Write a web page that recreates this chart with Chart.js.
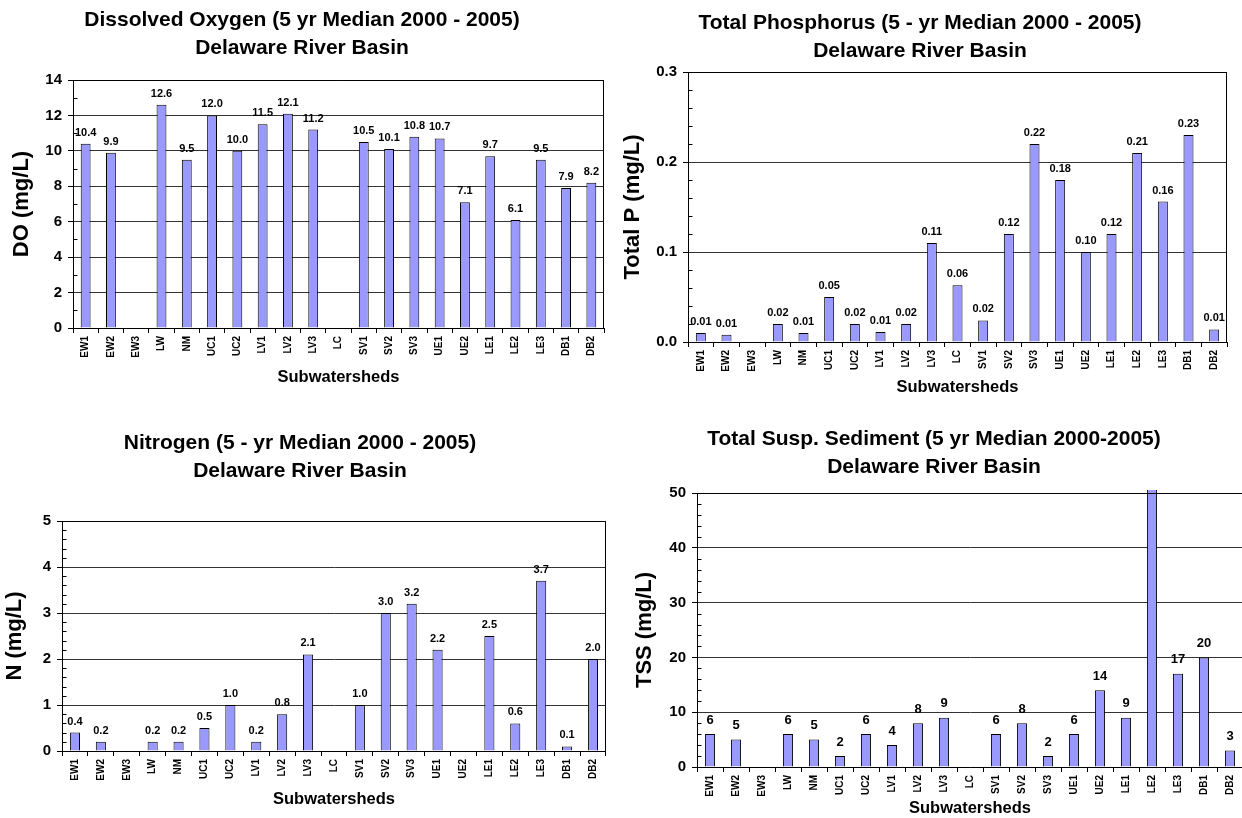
<!DOCTYPE html>
<html>
<head>
<meta charset="utf-8">
<title>Delaware River Basin - 5 yr medians by subwatershed</title>
<script src="https://cdn.jsdelivr.net/npm/chart.js@4.4.1/dist/chart.umd.min.js"></script>
<style>
  html, body { margin: 0; padding: 0; background: #fff; }
  body { width: 1242px; height: 818px; position: relative; overflow: hidden; }
  .panel { position: absolute; height: 409px; }
  #doBox  { left: 0;     top: 0;     width: 614px; }
  #tpBox  { left: 613px; top: 0;     width: 627px; }
  #nBox   { left: -7px;  top: 409px; width: 615px; }
  #tssBox { left: 625px; top: 409px; width: 645px; }
</style>
</head>
<body>
<div class="panel" id="doBox"><canvas id="doChart"></canvas></div>
<div class="panel" id="tpBox"><canvas id="tpChart"></canvas></div>
<div class="panel" id="nBox"><canvas id="nChart"></canvas></div>
<div class="panel" id="tssBox"><canvas id="tssChart"></canvas></div>

<script>
// --- data ---
const subwatersheds = ['EW1', 'EW2', 'EW3', 'LW', 'NM', 'UC1', 'UC2', 'LV1', 'LV2', 'LV3', 'LC',
                       'SV1', 'SV2', 'SV3', 'UE1', 'UE2', 'LE1', 'LE2', 'LE3', 'DB1', 'DB2'];

const doValues  = [10.4, 9.9, null, 12.6, 9.5, 12.0, 10.0, 11.5, 12.1, 11.2, null,
                   10.5, 10.1, 10.8, 10.7, 7.1, 9.7, 6.1, 9.5, 7.9, 8.2];
const tpValues  = [0.010, 0.008, null, 0.020, 0.010, 0.050, 0.020, 0.011, 0.020, 0.110, 0.063,
                   0.024, 0.120, 0.220, 0.180, 0.100, 0.120, 0.210, 0.156, 0.230, 0.014];
const nValues   = [0.4, 0.2, null, 0.2, 0.2, 0.5, 1.0, 0.2, 0.8, 2.1, null,
                   1.0, 3.0, 3.2, 2.2, null, 2.5, 0.6, 3.7, 0.1, 2.0];
// LE2 runs off the top of the TSS chart, its label is not shown; 52 is an estimate
const tssValues = [6, 5, null, 6, 5, 2, 6, 4, 8, 9, null,
                   6, 8, 2, 6, 14, 9, 52, 17, 20, 3];

// labelled (major) y ticks of each chart
const doTicks  = [0, 2, 4, 6, 8, 10, 12, 14];
const tpTicks  = [0, 0.1, 0.2, 0.3];
const nTicks   = [0, 1, 2, 3, 4, 5];
const tssTicks = [0, 10, 20, 30, 40, 50];

const FONT = '"Liberation Sans", Arial, Helvetica, sans-serif';
Chart.defaults.font.family = FONT;
Chart.defaults.color = '#000';

function isMajor(v, majors) {
    return majors.some(m => Math.abs(m - v) < 1e-9);
}

// value labels above each bar
const barValues = {
    id: 'barValues',
    afterDatasetsDraw(chart, args, opts) {
        const ctx = chart.ctx;
        const yScale = chart.scales.y;
        const values = chart.data.datasets[0].data;
        ctx.save();
        ctx.font = 'bold ' + opts.size + 'px ' + FONT;
        ctx.fillStyle = '#000';
        ctx.textAlign = 'center';
        ctx.textBaseline = 'middle';
        chart.getDatasetMeta(0).data.forEach((bar, i) => {
            const v = values[i];
            if (v === null || v > yScale.max) return;
            ctx.fillText(v.toFixed(opts.digits), bar.x, bar.y - opts.offset);
        });
        ctx.restore();
    }
};

// box round the plot area and small inward minor ticks on the value axis
const plotFrame = {
    id: 'plotFrame',
    afterDraw(chart, args, opts) {
        const ctx = chart.ctx;
        const a = chart.chartArea;
        const yScale = chart.scales.y;
        const l = Math.round(a.left) + 0.5, r = Math.round(a.right) - 0.5;
        const t = Math.round(a.top) + 0.5, b = Math.round(a.bottom) + 0.5;
        ctx.save();
        ctx.strokeStyle = '#000';
        ctx.lineWidth = 1;
        ctx.beginPath();
        ctx.moveTo(l, t); ctx.lineTo(r, t); ctx.lineTo(r, b);
        yScale.ticks.forEach(tk => {
            if (isMajor(tk.value, opts.majors)) return;
            const y = Math.round(yScale.getPixelForValue(tk.value)) + 0.5;
            ctx.moveTo(l, y); ctx.lineTo(l + 4, y);
        });
        ctx.stroke();
        ctx.restore();
    }
};

function makeChart(id, c) {
    const majors = c.majors;
    return new Chart(document.getElementById(id), {
        type: 'bar',
        data: {
            labels: subwatersheds,
            datasets: [{
                data: c.values,
                backgroundColor: '#9999ff',
                borderColor: '#000',
                borderWidth: 1,
                barPercentage: 0.39,
                categoryPercentage: 1.0,
                clip: c.clip || 0
            }]
        },
        options: {
            responsive: true,
            maintainAspectRatio: false,
            animation: false,
            events: [],
            layout: { padding: { left: 0, right: c.padRight, top: 0, bottom: 0 } },
            plugins: {
                legend: { display: false },
                tooltip: { enabled: false },
                title: {
                    display: true,
                    text: c.title,
                    color: '#000',
                    font: { size: 21, weight: 'bold', lineHeight: 1.362 },
                    padding: c.titlePad
                },
                barValues: { digits: c.digits, size: c.labelSize, offset: c.labelOffset },
                plotFrame: { majors: majors }
            },
            scales: {
                x: {
                    afterFit(s) { s.height = c.xHeight; },
                    grid: { display: true, drawOnChartArea: false, drawTicks: true, tickLength: 5, color: '#000', offset: true },
                    border: { display: true, color: '#000' },
                    ticks: {
                        autoSkip: false, minRotation: 90, maxRotation: 90, padding: 3,
                        font: { size: 10, weight: 'bold' }
                    },
                    title: {
                        display: true, text: 'Subwatersheds',
                        font: { size: 16.5, weight: 'bold' },
                        padding: { top: 0, bottom: c.xTitlePad }
                    }
                },
                y: {
                    min: majors[0],
                    max: majors[majors.length - 1],
                    afterFit(s) { s.width = c.yWidth; },
                    grid: {
                        color: ctx => isMajor(ctx.tick.value, majors) ? '#333' : 'transparent',
                        tickColor: ctx => isMajor(ctx.tick.value, majors) ? '#000' : 'transparent',
                        tickLength: 5
                    },
                    border: { display: true, color: '#000' },
                    ticks: {
                        stepSize: c.minorStep,
                        autoSkip: false,
                        padding: 6,
                        font: { size: 15, weight: 'bold' },
                        callback: v => isMajor(v, majors) ? Number(v).toFixed(c.tickDigits) : ''
                    },
                    title: {
                        display: true, text: c.yTitle,
                        font: { size: 22, weight: 'bold' },
                        padding: { top: c.yTitlePad, bottom: 0 }
                    }
                }
            }
        },
        plugins: [barValues, plotFrame]
    });
}

makeChart('doChart', {
    values: doValues, majors: doTicks, minorStep: 1, tickDigits: 0,
    title: ['Dissolved Oxygen (5 yr Median 2000 - 2005)', 'Delaware River Basin'],
    yTitle: 'DO (mg/L)', digits: 1, labelSize: 11, labelOffset: 11,
    yWidth: 73, xHeight: 81, padRight: 10,
    titlePad: { top: 5.7, bottom: 17.1 }, yTitlePad: 8.8, xTitlePad: 22.1
});

makeChart('tpChart', {
    values: tpValues, majors: tpTicks, minorStep: 0.02, tickDigits: 1,
    title: ['Total Phosphorus (5 - yr Median 2000 - 2005)', 'Delaware River Basin'],
    yTitle: 'Total P (mg/L)', digits: 2, labelSize: 11, labelOffset: 11,
    yWidth: 75, xHeight: 67, padRight: 13,
    titlePad: { top: 8.7, bottom: 6.1 }, yTitlePad: 6.8, xTitlePad: 12.1
});

makeChart('nChart', {
    values: nValues, majors: nTicks, minorStep: 0.2, tickDigits: 0,
    title: ['Nitrogen (5 - yr Median 2000 - 2005)', 'Delaware River Basin'],
    yTitle: 'N (mg/L)', digits: 1, labelSize: 11, labelOffset: 11,
    yWidth: 69, xHeight: 67, padRight: 1,
    titlePad: { top: 19.7, bottom: 35.1 }, yTitlePad: 8.8, xTitlePad: 9.1
});

makeChart('tssChart', {
    values: tssValues, majors: tssTicks, minorStep: 2, tickDigits: 0,
    title: ['Total Susp. Sediment (5 yr Median 2000-2005)', 'Delaware River Basin'],
    yTitle: 'TSS (mg/L)', digits: 0, labelSize: 13, labelOffset: 14,
    yWidth: 72, xHeight: 51, padRight: 27,
    titlePad: { top: 15.7, bottom: 11.1 }, yTitlePad: 6.8, xTitlePad: 0.1,
    clip: { left: 0, top: 3, right: 0, bottom: 0 }
});
</script>
</body>
</html>
